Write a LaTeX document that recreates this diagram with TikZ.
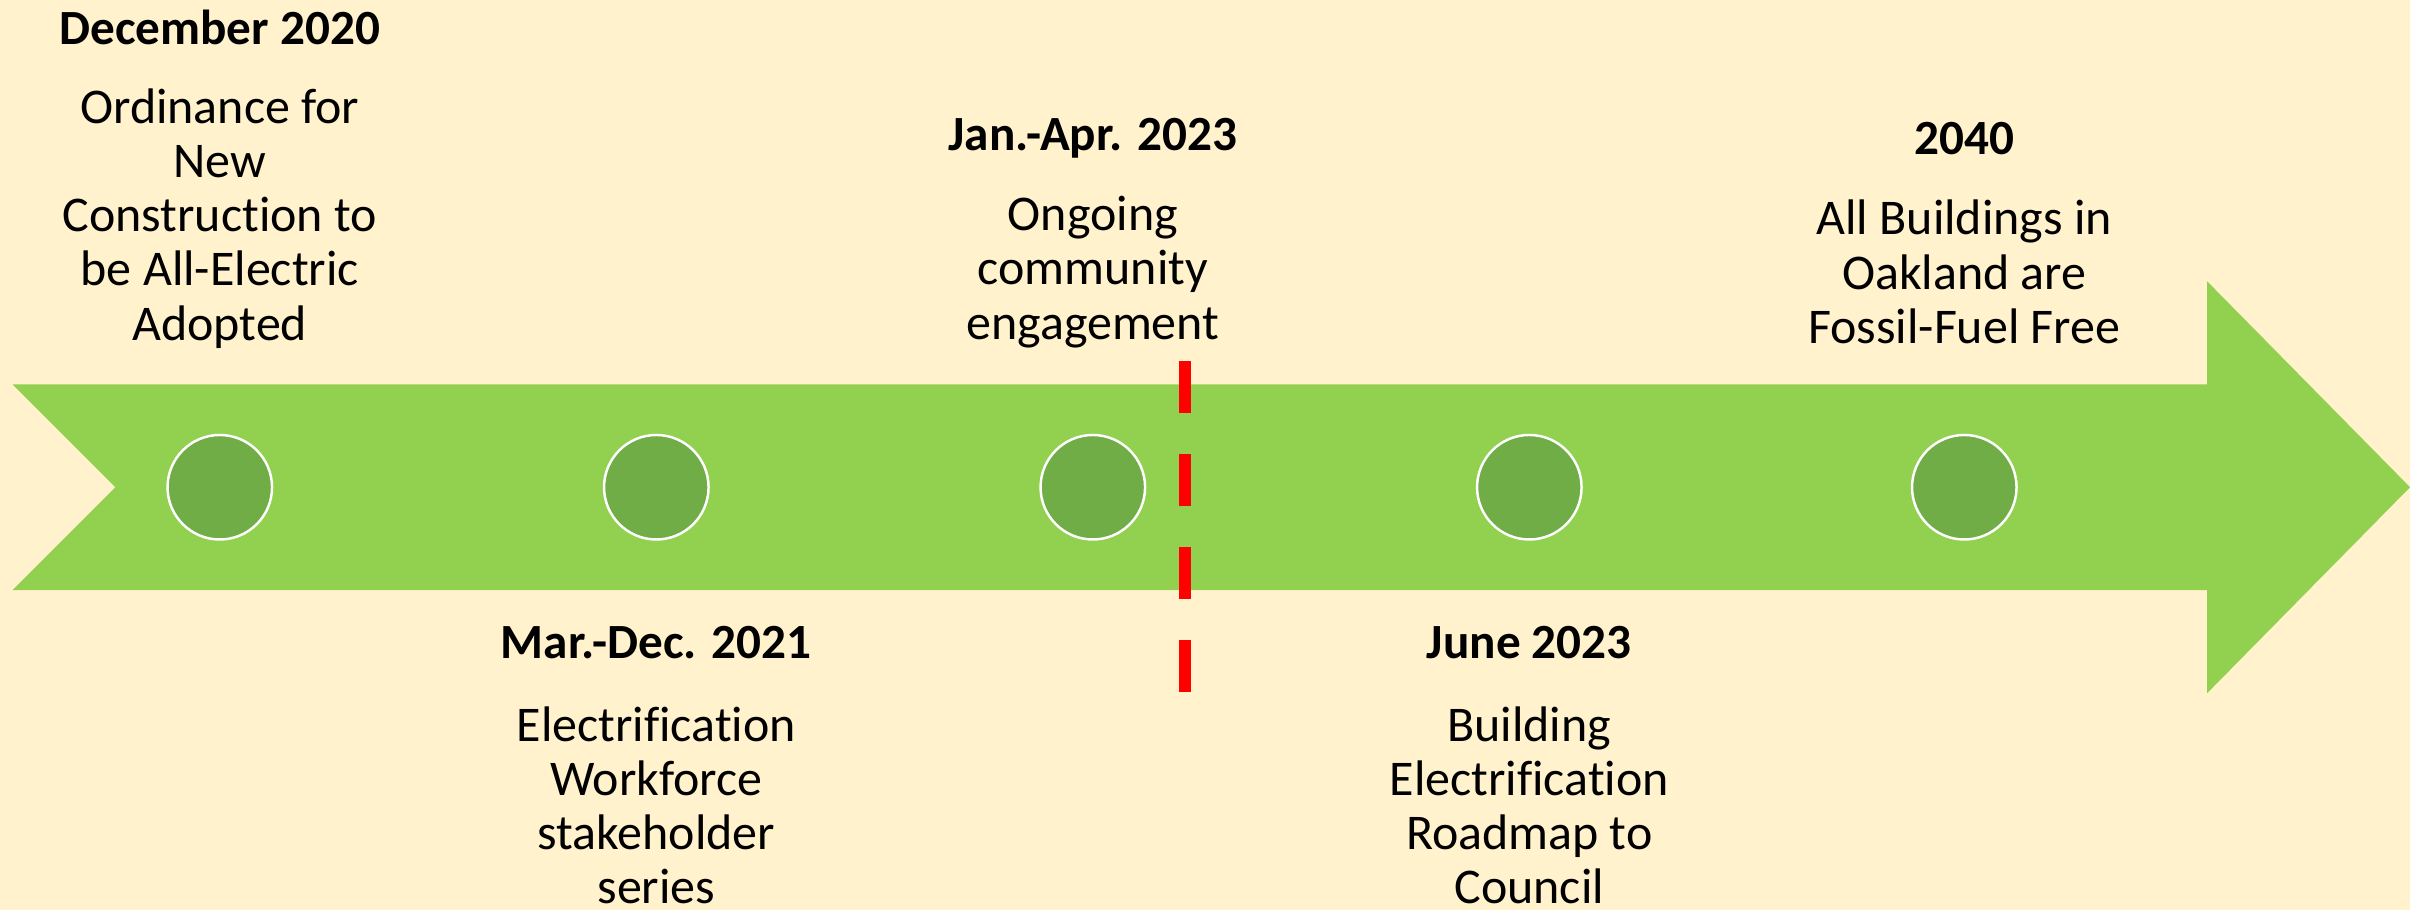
\documentclass[tikz,border=0pt]{standalone}
\usepackage{fontspec}
\setmainfont{Carlito}[Ligatures={NoCommon}]
\definecolor{bg}{HTML}{FFF2CC}
\definecolor{arrowgreen}{HTML}{92D050}
\definecolor{dotgreen}{HTML}{70AD47}
\definecolor{dashred}{HTML}{FF0000}
\begin{document}
\begin{tikzpicture}[x=1pt,y=-1pt,
  dot/.style={circle,minimum size=68pt,inner sep=0pt,fill=dotgreen,draw=white,line width=1.6pt},
  title/.style={font=\bfseries\fontsize{32}{35.3}\selectfont,inner sep=0pt,align=center},
  body/.style={font=\fontsize{32.5}{35.3}\selectfont,inner sep=0pt,align=center}]
\useasboundingbox (0,0) rectangle (1568,592);
\fill[bg] (0,0) rectangle (1568,592);
% arrow
\fill[arrowgreen] (8,250) -- (1436,250) -- (1436,183) -- (1568,317) -- (1436,451) -- (1436,384) -- (8,384) -- (75,317) -- cycle;
% dots
\node[dot] (d1) at (143,317) {};
\node[dot] (d2) at (427,317) {};
\node[dot] (d3) at (711,317) {};
\node[dot] (d4) at (995,317) {};
\node[dot] (d5) at (1278,317) {};
% red dashed line
\draw[dashred,line width=8pt,dash pattern=on 34pt off 26.5pt] (771,235) -- (771,453);
% texts
\node[title] (t1) at (143,18) {December 2020};
\node[body] (b1) at (143,142) {Ordinance for\\New\\Construction to\\be All-Electric\\Adopted};
\node[title] (t3) at (711,90) {Jan.-Apr. 2023};
\node[body] (b3) at (711,177) {Ongoing\\community\\engagement};
\node[title] (t5) at (1278,90) {2040};
\node[body] (b5) at (1278,177) {All Buildings in\\Oakland are\\Fossil-Fuel Free};
\node[title] (t2) at (427,418) {Mar.-Dec. 2021};
\node[body] (b2) at (427,524) {Electrification\\Workforce\\stakeholder\\series};
\node[title] (t4) at (995,418) {June 2023};
\node[body] (b4) at (995,524) {Building\\Electrification\\Roadmap to\\Council};
\end{tikzpicture}
\end{document}
